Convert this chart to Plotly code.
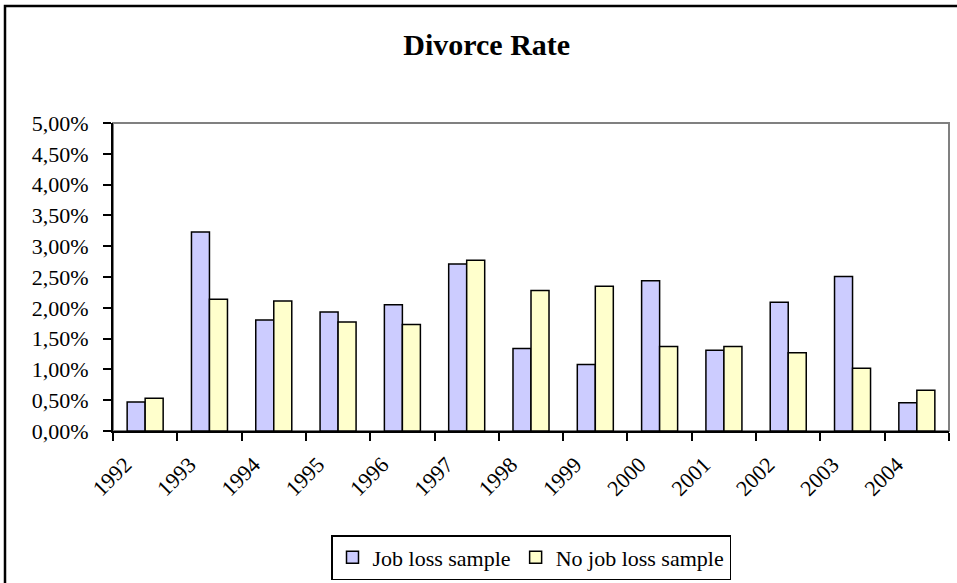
import plotly.graph_objects as go

years = ["1992", "1993", "1994", "1995", "1996", "1997", "1998", "1999",
         "2000", "2001", "2002", "2003", "2004"]
job_loss = [0.0047, 0.0323, 0.0180, 0.0193, 0.0205, 0.0271, 0.0134, 0.0108,
            0.0244, 0.0131, 0.0209, 0.0251, 0.0046]
no_job_loss = [0.0053, 0.0214, 0.0211, 0.0177, 0.0173, 0.0277, 0.0228, 0.0235,
               0.0137, 0.0137, 0.0127, 0.0102, 0.0066]
y_ticks = [0, 0.005, 0.01, 0.015, 0.02, 0.025, 0.03, 0.035, 0.04, 0.045, 0.05]

FONT = "Liberation Serif, Times New Roman, serif"

fig = go.Figure()
fig.add_trace(go.Bar(x=years, y=job_loss, name="Job loss sample",
                     marker=dict(color="#CCCCFF", line=dict(color="black", width=1.5))))
fig.add_trace(go.Bar(x=years, y=no_job_loss, name="No job loss sample",
                     marker=dict(color="#FFFFCC", line=dict(color="black", width=1.5))))

W, H = 957, 583
L, R, T, B = 113, 8, 123, 152
pw, ph = W - L - R, H - T - B

# plot area border (gray) and outer chart border (black)
fig.add_shape(type="rect", xref="paper", yref="paper", x0=0, x1=1, y0=0, y1=1,
              line=dict(color="#808080", width=2), layer="below")
fig.add_shape(type="rect", xref="paper", yref="paper",
              x0=(5 - L) / pw, x1=(W + 20 - L) / pw,
              y0=(H - B - (H + 20)) / ph, y1=(H - B - 6) / ph,
              line=dict(color="black", width=2.5), layer="below")

fig.update_layout(
    width=W, height=H,
    margin=dict(l=L, r=R, t=T, b=B),
    paper_bgcolor="white", plot_bgcolor="white",
    separators=",.",
    barmode="group", bargap=0.44, bargroupgap=0,
    font=dict(family=FONT, size=22, color="black"),
    title=dict(text="<b>Divorce Rate</b>", x=0.5086, xref="container", xanchor="center",
               y=1 - 44 / H, yref="container", yanchor="middle",
               font=dict(family=FONT, size=30, color="black")),
    legend=dict(orientation="h", x=0.5, xref="paper", xanchor="center",
                y=1 - 535 / H, yref="container", yanchor="top",
                bordercolor="black", borderwidth=1.5, bgcolor="white",
                font=dict(family=FONT, size=22, color="black"),
                itemwidth=30, tracegroupgap=0),
    showlegend=True,
)
fig.update_xaxes(type="category", tickson="boundaries", ticks="outside", ticklen=8,
                 tickwidth=1.5, tickcolor="black", showline=True, linecolor="black",
                 linewidth=2, tickangle=-45, showgrid=False, zeroline=False,
                 tickfont=dict(family=FONT, size=22, color="black"),
                 ticklabelshift=-20, ticklabelstandoff=10)
fig.update_yaxes(range=[0, 0.05], tickvals=y_ticks, tickformat=".2%", ticks="outside",
                 ticklen=8, tickwidth=1.5, tickcolor="black", showline=True,
                 linecolor="black", linewidth=2, showgrid=False, zeroline=False,
                 tickfont=dict(family=FONT, size=22, color="black"),
                 ticklabelstandoff=10)

fig.write_html("out.html")
